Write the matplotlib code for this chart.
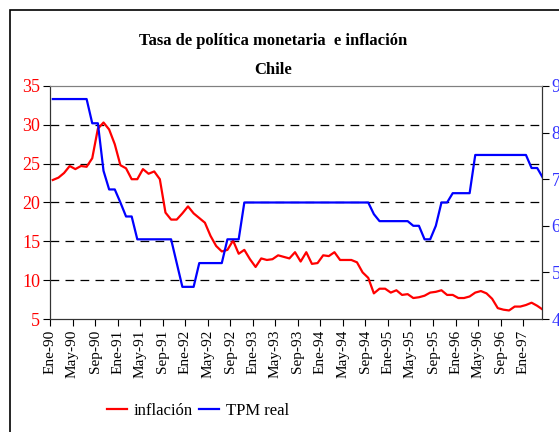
import matplotlib.pyplot as plt
import numpy as np
from matplotlib.patches import Rectangle

plt.rcParams['font.family'] = ['Liberation Serif', 'DejaVu Serif']

# monthly data, Jan-90 .. Apr-97
inflacion = [22.9, 23.2, 23.8, 24.7, 24.3, 24.7, 24.6, 25.7, 29.5, 30.3,
             29.4, 27.5, 24.8, 24.4, 23.0, 23.0, 24.3, 23.7, 24.0, 23.0,
             18.7, 17.8, 17.8, 18.6, 19.5, 18.6, 18.0, 17.4, 15.7, 14.4,
             13.7, 13.9, 15.1, 13.4, 13.9, 12.7, 11.7, 12.8, 12.6, 12.7,
             13.2, 13.0, 12.8, 13.6, 12.4, 13.6, 12.1, 12.2, 13.2, 13.1,
             13.6, 12.6, 12.6, 12.6, 12.3, 11.0, 10.3, 8.3, 8.9, 8.9,
             8.4, 8.7, 8.1, 8.2, 7.7, 7.8, 8.0, 8.4, 8.5, 8.7,
             8.1, 8.1, 7.7, 7.7, 7.9, 8.4, 8.6, 8.3, 7.6, 6.4,
             6.2, 6.1, 6.6, 6.6, 6.8, 7.1, 6.7, 6.2]

tpm_real = ([8.72] * 7 + [8.2] * 2 + [7.18] + [6.78] * 2 + [6.5] + [6.2] * 2
            + [5.71] * 7 + [5.2] + [4.69] * 3 + [5.2] * 5 + [5.71] * 3
            + [6.5] * 23 + [6.25] + [6.1] * 6 + [6.0] * 2 + [5.71] * 2
            + [6.0] + [6.5] * 2 + [6.7] * 4 + [7.52] * 10 + [7.24] * 2 + [7.03])

meses = ['Ene', 'May', 'Sep']
anios = ['90', '91', '92', '93', '94', '95', '96', '97']
etiquetas = [m + '-' + a for a in anios for m in meses][:22]

x = np.arange(len(inflacion)) + 0.5   # mid-month positions

fig = plt.figure(figsize=(5.59, 4.32), dpi=100)
ax = fig.add_axes([50/559, 1 - 319/432, 492/559, 233/432])
ax2 = ax.twinx()

ax.plot(x, inflacion, color='#ff0000', lw=1.6, label='inflación')
ax2.plot(x, tpm_real, color='#0000ff', lw=1.6, label='TPM real')

ax.set_xlim(0, 87.35)
ax.set_ylim(5, 35)
ax2.set_ylim(4, 9)

for v in [10, 15, 20, 25, 30]:
    ax.axhline(v, color='black', lw=0.9, dashes=(7, 5), zorder=0)

ax.set_xticks(np.arange(0, 85, 4))
ax.set_xticklabels(etiquetas, rotation=90, fontsize=11)
ax.set_yticks(range(5, 36, 5))
ax.tick_params(axis='y', colors='black', labelcolor='#ff0000', labelsize=13,
               direction='out', length=5, pad=2)
ax.tick_params(axis='x', direction='out', length=5, pad=3)
ax2.set_yticks(range(4, 10))
ax2.tick_params(axis='y', colors='black', labelcolor='#3333ff', labelsize=13,
                direction='out', length=5, pad=2)

for a in (ax, ax2):
    a.spines['top'].set_color('#808080')
    a.spines['left'].set_color('#333333')
    a.spines['right'].set_color('#333333')
    a.spines['bottom'].set_color('#333333')

fig.text(0.488, 1 - 41/432, 'Tasa de política monetaria  e inflación',
         ha='center', va='center', fontsize=12, fontweight='bold')
fig.text(0.488, 1 - 70/432, 'Chile', ha='center', va='center',
         fontsize=12, fontweight='bold')

h1, l1 = ax.get_legend_handles_labels()
h2, l2 = ax2.get_legend_handles_labels()
fig.legend(h1 + h2, l1 + l2, loc='center', bbox_to_anchor=(198/559, 1 - 411/432),
           ncol=2, frameon=False, fontsize=12, handlelength=1.2,
           handletextpad=0.4, columnspacing=0.4)

fig.patches.append(Rectangle((10/559, -0.1), 1.2, 1 - 10/432 + 0.1,
                             transform=fig.transFigure, fill=False,
                             edgecolor='black', lw=1.2))

fig.savefig('out.png', dpi=100)
